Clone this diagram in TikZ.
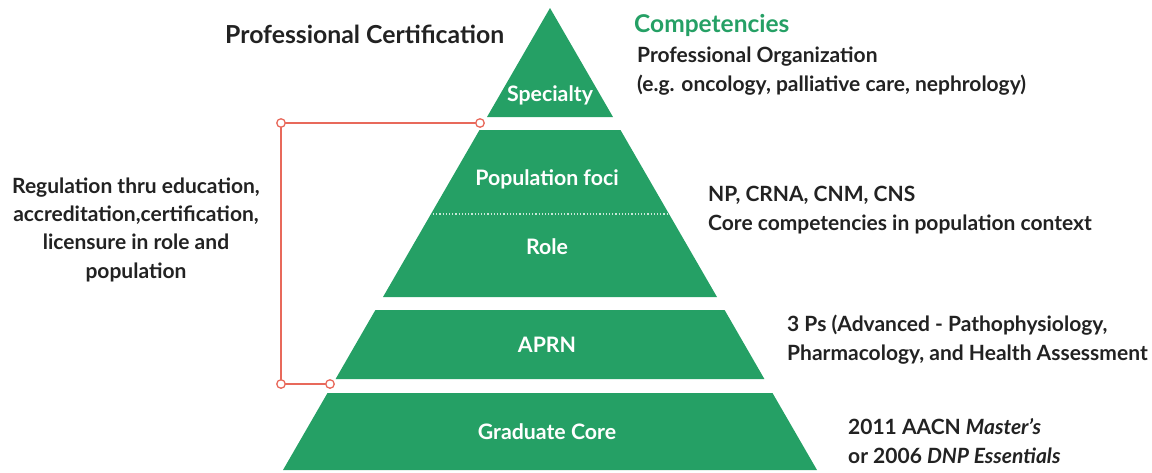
\documentclass[tikz,border=0pt]{standalone}
\usepackage{fontspec}
\setmainfont{Lato}[BoldFont={Lato Bold}, BoldItalicFont={Lato Bold Italic}]
\usetikzlibrary{positioning, backgrounds}

\definecolor{pyrgreen}{HTML}{25A065}
\definecolor{brackred}{HTML}{E8695B}
\definecolor{textdark}{HTML}{222222}

\begin{document}
\begin{tikzpicture}[x=1pt, y=-1pt,
  tier/.style={fill=pyrgreen},
  tierlabel/.style={text=white, font=\fontsize{21.3}{24}\selectfont\bfseries, inner sep=0pt, anchor=base},
  note/.style={text=textdark, font=\fontsize{21}{28.3}\selectfont\bfseries, inner sep=0pt, align=left, anchor=base west},
  title/.style={text=textdark, font=\fontsize{24.8}{28}\selectfont\bfseries, inner sep=0pt, anchor=base west},
  joint/.style={circle, draw=brackred, fill=white, line width=1.3pt, minimum size=8.5pt, inner sep=0pt},
  bracket/.style={draw=brackred, line width=1.3pt}
]
\useasboundingbox (0,0) rectangle (1152,472);

% Pyramid tiers
\fill[tier] (550,8) -- (613,117) -- (487,117) -- cycle;
\fill[tier] (479.5,130) -- (620.5,130) -- (717,297) -- (383,297) -- cycle;
\fill[tier] (375.4,310) -- (724.6,310) -- (764.4,379) -- (335.6,379) -- cycle;
\fill[tier] (327.5,393) -- (772.5,393) -- (817,470) -- (283,470) -- cycle;

% Split between population foci and role
\draw[white!75!pyrgreen, dotted, line width=1.2pt] (433,214) -- (668,214);

% Tier labels
\node[tierlabel] (specialty) at (550,101) {Specialty};
\node[tierlabel] (foci) at (547,185) {Population foci};
\node[tierlabel] (role) at (547,254) {Role};
\node[tierlabel] (aprn) at (547,352) {APRN};
\node[tierlabel] (core) at (547,439) {Graduate Core};

% Headings
\node[title] (cert) at (225,43) {Professional Certification};
\node[title, text=pyrgreen, font=\fontsize{24.5}{28}\selectfont\bfseries] (comp) at (634,32) {Competencies};

% Notes (base anchor sits on the last line)
\node[note] (org) at (637,91) {Professional Organization\\(e.g. oncology, palliative care, nephrology)};
\node[note] (np) at (708,230) {NP, CRNA, CNM, CNS\\Core competencies in population context};
\node[note] (ps) at (787,360) {3 Ps (Advanced - Pathophysiology,\\Pharmacology, and Health Assessment};
\node[note] (aacn) at (848,463) {2011 AACN \textit{Master's}\\or 2006 \textit{DNP Essentials}};
\node[note, align=center, anchor=base] (reg) at (136,278) {Regulation thru education,\\accreditation,certification,\\licensure in role and\\population};

% Bracket
\node[joint] (j1) at (480,123) {};
\node[joint] (j2) at (281,123) {};
\node[joint] (j3) at (281,384) {};
\node[joint] (j4) at (330,384) {};
\begin{pgfonlayer}{background}
  \draw[bracket] (j1.center) -- (j2.center) -- (j3.center) -- (j4.center);
\end{pgfonlayer}

\end{tikzpicture}
\end{document}
